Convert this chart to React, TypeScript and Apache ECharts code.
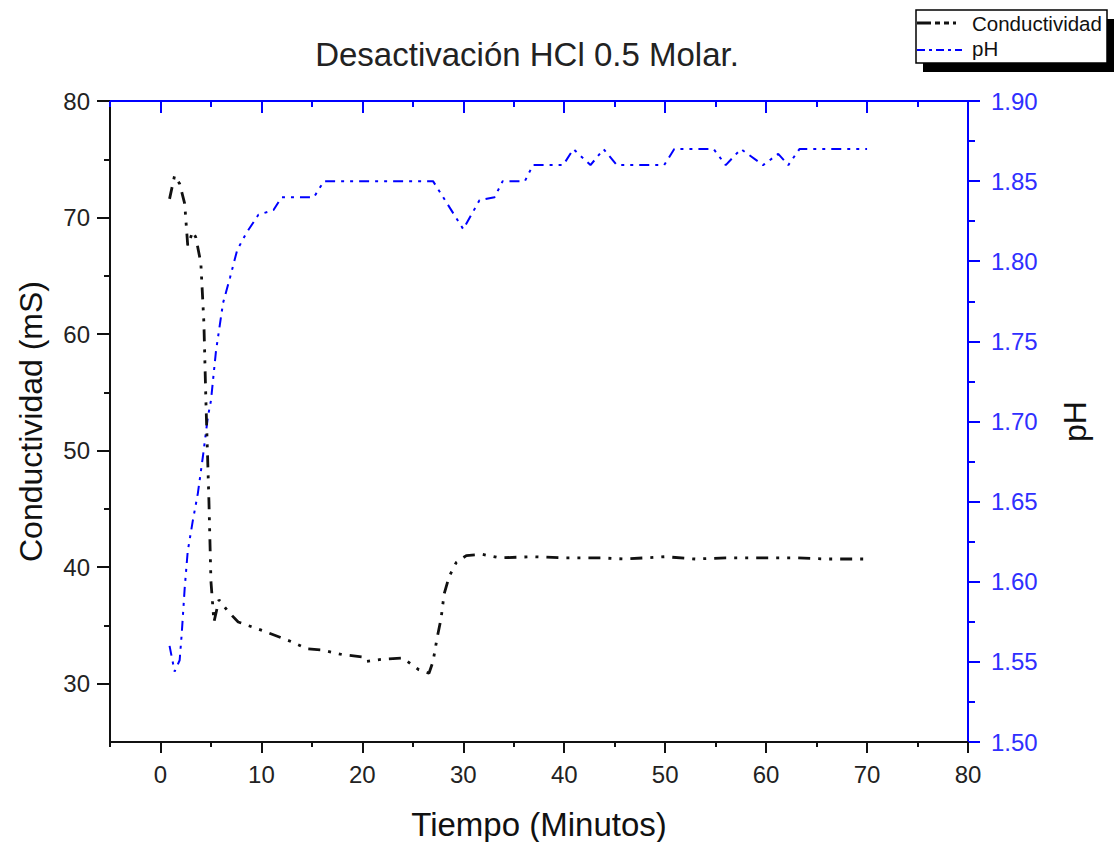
import React, { useEffect, useRef } from "react";
import * as echarts from "echarts";

const FONT = "Liberation Sans, Arial, sans-serif";

const titleText = "Desactivación HCl 0.5 Molar.";
const xName = "Tiempo (Minutos)";
const yLeftName = "Conductividad (mS)";
const yRightName = "pH";
const seriesNames = ["Conductividad", "pH"];

const xMajorTicks = [0, 10, 20, 30, 40, 50, 60, 70, 80];
const xMinorTicks = [-5, 5, 15, 25, 35, 45, 55, 65, 75];
const yLeftMajorTicks = [30, 40, 50, 60, 70, 80];
const yLeftMinorTicks = [35, 45, 55, 65, 75];

// Conductividad (mS) vs tiempo (min)
const condTime = [0.9, 1.4, 1.9, 2.4, 2.7, 3.2, 3.5, 4.0, 4.3, 4.5, 4.8, 5.0, 5.3, 5.8, 6.7, 7.7, 10.3, 13, 14.5, 16, 18, 20, 20.3, 22, 24, 25.6, 26.6, 27, 27.4, 27.8, 28.1, 28.6, 29.3, 30.3, 31.9, 33.6, 36.9, 40, 43.6, 46, 50, 53, 56, 60, 63, 66, 70];
const condValues = [71.6, 73.6, 72.9, 71.2, 67.6, 68.8, 68.3, 66.1, 61, 54.3, 45.7, 38.8, 35.3, 37.2, 36.2, 35.3, 34.5, 33.6, 33.0, 32.9, 32.5, 32.3, 31.9, 32.1, 32.2, 31.2, 30.9, 31.9, 33.9, 35.6, 37.7, 39.2, 40.4, 41.0, 41.1, 40.8, 40.9, 40.8, 40.8, 40.7, 40.9, 40.7, 40.8, 40.8, 40.8, 40.7, 40.7];

// pH vs tiempo (min)
const phTime = [0.9, 1.4, 1.9, 2.1, 2.4, 2.7, 3.2, 3.7, 4.2, 4.7, 5.0, 5.5, 6.2, 6.9, 7.6, 8.5, 9.7, 11.2, 12, 15.2, 16.2, 27, 30, 31.6, 33.1, 33.9, 36.1, 36.9, 39.9, 40.9, 42.6, 43.9, 45.2, 49.9, 50.9, 54.8, 56, 57.5, 59.7, 61.2, 62.2, 63.3, 70];
const phValues = [1.56, 1.544, 1.551, 1.567, 1.596, 1.619, 1.638, 1.655, 1.678, 1.703, 1.713, 1.744, 1.774, 1.79, 1.807, 1.8175, 1.829, 1.832, 1.84, 1.84, 1.85, 1.85, 1.82, 1.838, 1.84, 1.85, 1.85, 1.86, 1.86, 1.87, 1.86, 1.87, 1.86, 1.86, 1.87, 1.87, 1.86, 1.87, 1.86, 1.867, 1.86, 1.87, 1.87];

const BLUE = "#0000ff";
const BLACK = "#111111";

export default function App() {
  const ref = useRef<HTMLDivElement>(null);

  useEffect(() => {
    if (!ref.current) return;
    const chart = echarts.init(ref.current, undefined, { renderer: "svg" });
    const condData = condTime.map((t, i) => [t, condValues[i]]);
    const phData = phTime.map((t, i) => [t, phValues[i]]);

    const baseX = { type: "value", min: -5, max: 80, interval: 5, splitLine: { show: false } };
    const baseYL = { type: "value", min: 25, max: 80, interval: 5, splitLine: { show: false } };

    chart.setOption({
      animation: false,
      backgroundColor: "#ffffff",
      textStyle: { fontFamily: FONT },
      title: {
        text: titleText,
        left: 522,
        textAlign: "center",
        top: 33,
        textStyle: { fontFamily: FONT, fontSize: 33, fontWeight: "normal", color: "#222" },
      },
      grid: { left: 110, right: 147, top: 101, bottom: 100, outerBoundsMode: "none" },
      xAxis: [
        {
          ...baseX,
          position: "bottom",
          name: xName,
          nameLocation: "middle",
          nameGap: 66,
          nameTextStyle: { fontFamily: FONT, fontSize: 33, color: "#111" },
          axisLine: { show: true, onZero: false, lineStyle: { color: BLACK, width: 2 } },
          axisTick: { show: true, inside: false, length: 11, customValues: xMajorTicks, lineStyle: { color: BLACK, width: 2 } },
          axisLabel: { show: true, customValues: xMajorTicks, margin: 20, fontSize: 24, color: "#222", fontFamily: FONT },
        },
        {
          ...baseX,
          position: "bottom",
          axisLine: { show: false, onZero: false },
          axisTick: { show: true, inside: false, length: 5, customValues: xMinorTicks, lineStyle: { color: BLACK, width: 2 } },
          axisLabel: { show: false },
        },
        {
          ...baseX,
          position: "top",
          axisLine: { show: true, onZero: false, lineStyle: { color: BLUE, width: 2 } },
          axisTick: { show: true, inside: true, length: 12, customValues: xMajorTicks, lineStyle: { color: BLUE, width: 2 } },
          axisLabel: { show: false },
        },
        {
          ...baseX,
          position: "top",
          axisLine: { show: false, onZero: false },
          axisTick: { show: true, inside: true, length: 6, customValues: xMinorTicks, lineStyle: { color: BLUE, width: 2 } },
          axisLabel: { show: false },
        },
      ],
      yAxis: [
        {
          ...baseYL,
          position: "left",
          name: yLeftName,
          nameLocation: "middle",
          nameRotate: 90,
          nameGap: 63,
          nameTextStyle: { fontFamily: FONT, fontSize: 32, color: "#111" },
          axisLine: { show: true, onZero: false, lineStyle: { color: BLACK, width: 2 } },
          axisTick: { show: true, inside: false, length: 13, customValues: yLeftMajorTicks, lineStyle: { color: BLACK, width: 2 } },
          axisLabel: { show: true, customValues: yLeftMajorTicks, margin: 20, fontSize: 24, color: "#222", fontFamily: FONT },
        },
        {
          ...baseYL,
          position: "left",
          axisLine: { show: false, onZero: false },
          axisTick: { show: true, inside: false, length: 6, customValues: yLeftMinorTicks, lineStyle: { color: BLACK, width: 2 } },
          axisLabel: { show: false },
        },
        {
          type: "value",
          position: "right",
          min: 1.5,
          max: 1.9,
          interval: 0.05,
          splitLine: { show: false },
          name: yRightName,
          nameLocation: "middle",
          nameRotate: 90,
          nameGap: 91,
          nameTextStyle: { fontFamily: FONT, fontSize: 32, color: "#111" },
          axisLine: { show: true, onZero: false, lineStyle: { color: BLUE, width: 2 } },
          axisTick: { show: true, inside: false, length: 12, lineStyle: { color: BLUE, width: 2 } },
          minorTick: { show: true, splitNumber: 2, length: 7, lineStyle: { color: BLUE, width: 2 } },
          axisLabel: {
            show: true,
            margin: 23,
            fontSize: 24,
            color: "#2f2fff",
            fontFamily: FONT,
            formatter: (v: number) => v.toFixed(2),
          },
        },
      ],
      series: [
        {
          name: seriesNames[0],
          type: "line",
          xAxisIndex: 0,
          yAxisIndex: 0,
          data: condData,
          showSymbol: false,
          symbol: "none",
          lineStyle: { color: BLACK, width: 2.8, type: [12, 8, 3, 8, 3, 8] },
          z: 3,
        },
        {
          name: seriesNames[1],
          type: "line",
          xAxisIndex: 0,
          yAxisIndex: 2,
          data: phData,
          showSymbol: false,
          symbol: "none",
          lineStyle: { color: BLUE, width: 2, type: [10, 6, 3, 6, 3, 6] },
          z: 2,
        },
      ],
      graphic: [
        { type: "rect", shape: { x: 923, y: 19, width: 191, height: 53 }, style: { fill: "#000" }, z: 10 },
        { type: "rect", shape: { x: 916, y: 10, width: 191, height: 53 }, style: { fill: "#fff", stroke: "#000", lineWidth: 1.5 }, z: 11 },
        { type: "line", shape: { x1: 917, y1: 23, x2: 970, y2: 23 }, style: { stroke: BLACK, lineWidth: 3, lineDash: [14, 4, 5, 4, 5, 4, 3] }, z: 12 },
        { type: "text", x: 972, y: 23, style: { text: seriesNames[0], fontSize: 20.5, fontFamily: FONT, fill: "#111", verticalAlign: "middle", align: "left" }, z: 12 },
        { type: "line", shape: { x1: 917, y1: 50, x2: 962, y2: 50 }, style: { stroke: BLUE, lineWidth: 2, lineDash: [8, 4, 3, 4] }, z: 12 },
        { type: "text", x: 972, y: 48, style: { text: seriesNames[1], fontSize: 20.5, fontFamily: FONT, fill: "#111", verticalAlign: "middle", align: "left" }, z: 12 },
      ],
    });
    return () => chart.dispose();
  }, []);

  return <div ref={ref} style={{ width: 1115, height: 842, position: "absolute", left: 0, top: 0 }} />;
}
